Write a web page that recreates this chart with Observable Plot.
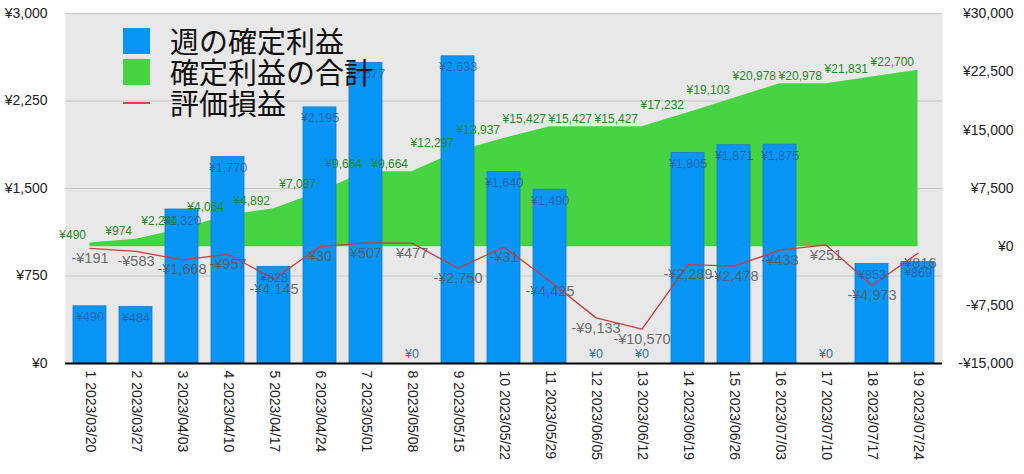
<!DOCTYPE html>
<html>
<head>
<meta charset="utf-8">
<script src="https://cdn.jsdelivr.net/npm/d3@7"></script>
<script src="https://cdn.jsdelivr.net/npm/@observablehq/plot@0.6"></script>
<style>
  body { margin: 0; background: #fff; }
  #wrap { position: relative; width: 1024px; height: 474px; }
  #legend { position: absolute; left: 123px; top: 25px; font-family: "Noto Sans CJK JP", sans-serif; font-size: 29px; color: #111; line-height: 31px; }
  .item { display: flex; align-items: center; height: 31px; }
  .sw { width: 27px; height: 26px; margin-right: 20px; }
  .ln { width: 27px; height: 2px; margin-right: 20px; background: #d04848; }
</style>
</head>
<body>
<div id="wrap">
  <div id="chart"></div>
  <div id="legend"></div>
</div>
<script>
const weeks = ["1 2023/03/20","2 2023/03/27","3 2023/04/03","4 2023/04/10","5 2023/04/17","6 2023/04/24","7 2023/05/01","8 2023/05/08","9 2023/05/15","10 2023/05/22","11 2023/05/29","12 2023/06/05","13 2023/06/12","14 2023/06/19","15 2023/06/26","16 2023/07/03","17 2023/07/10","18 2023/07/17","19 2023/07/24"];
const weeklyProfit = [490,484,1320,1770,828,2195,2577,0,2633,1640,1490,0,0,1805,1871,1875,0,853,869];
const cumulativeProfit = [490,974,2294,4064,4892,7087,9664,9664,12297,13937,15427,15427,15427,17232,19103,20978,20978,21831,22700];
const unrealized = [-191,-583,-1668,-957,-4145,30,507,477,-2750,-31,-4425,-9133,-10570,-2289,-2478,-433,251,-4973,-816];
const leftTicks = [0,750,1500,2250,3000];
const rightTicks = [-15000,-7500,0,7500,15000,22500,30000];
const seriesNames = ["週の確定利益","確定利益の合計","評価損益"];

const yen = v => (v < 0 ? "-" : "") + "¥" + d3.format(",")(Math.abs(v));
// right axis (-15000..30000) mapped onto left scale (0..3000)
const toLeft = v => (v + 15000) / 15;
const fromLeft = v => v * 15 - 15000;

const rows = weeks.map((w, i) => ({
  week: w,
  weekly: weeklyProfit[i],
  cum: cumulativeProfit[i],
  unr: unrealized[i]
}));

const chart = Plot.plot({
  width: 1024,
  height: 474,
  marginLeft: 65,
  marginRight: 82,
  marginTop: 13,
  marginBottom: 111,
  style: { fontFamily: "'Liberation Sans', Helvetica, Arial, sans-serif", background: "#fff" },
  x: { type: "band", domain: weeks, paddingInner: 0.28, paddingOuter: 0.14, label: null },
  y: { domain: [0, 3000], label: null },
  marks: [
    Plot.frame({ fill: "#e8e8e8", stroke: null }),
    Plot.gridY(leftTicks, { stroke: "#c6c6c6", strokeOpacity: 1, strokeWidth: 1.2 }),
    Plot.areaY(rows, { x: "week", y1: toLeft(0), y2: d => toLeft(d.cum), fill: "#47d442", curve: "linear" }),
    Plot.barY(rows, { x: "week", y: "weekly", fill: "#0896f6", stroke: "#1a78c8", strokeWidth: 0.8 }),
    Plot.lineY(rows, { x: "week", y: d => toLeft(d.unr), stroke: "#d0383c", strokeWidth: 1.3 }),
    Plot.ruleY([0], { stroke: "#000", strokeWidth: 2 }),
    Plot.text(rows.filter(d => d.weekly !== 0), { x: "week", y: "weekly", text: d => yen(d.weekly), dy: 11, fill: "#245a98", fillOpacity: 0.85, fontSize: 12.5 }),
    Plot.text(rows.filter(d => d.weekly === 0), { x: "week", y: "weekly", text: d => yen(d.weekly), dy: -10, fill: "#2a6fb8", fontSize: 12.5 }),
    Plot.text(rows, { x: "week", y: d => toLeft(d.cum), text: d => yen(d.cum), textAnchor: "end", dx: -4, dy: -8, fill: "#1f8a1f", fontSize: 12 }),
    Plot.text(rows, { x: "week", y: d => toLeft(d.unr), text: d => yen(d.unr), dy: 10, fill: "#5a5a5a", fillOpacity: 0.9, fontSize: 14.5 }),
    Plot.axisY(leftTicks, { anchor: "left", tickSize: 0, tickPadding: 18, tickFormat: yen, fontSize: 14, fill: "#222", label: null }),
    Plot.axisY(rightTicks.map(toLeft), { anchor: "right", tickSize: 0, tickPadding: 71, textAnchor: "end", tickFormat: d => yen(Math.round(fromLeft(d))), fontSize: 14, fill: "#222", label: null }),
    Plot.axisX({ anchor: "bottom", tickSize: 0, tickPadding: 7, tickRotate: 90, fontSize: 14, fill: "#222", label: null })
  ]
});
document.getElementById("chart").appendChild(chart);

const colors = ["#0896f6", "#47d442", null];
const legend = document.getElementById("legend");
seriesNames.forEach((name, i) => {
  const item = document.createElement("div");
  item.className = "item";
  const sw = document.createElement("div");
  if (colors[i]) { sw.className = "sw"; sw.style.background = colors[i]; } else { sw.className = "ln"; }
  item.appendChild(sw);
  const t = document.createElement("span");
  t.textContent = name;
  item.appendChild(t);
  legend.appendChild(item);
});
</script>
</body>
</html>
